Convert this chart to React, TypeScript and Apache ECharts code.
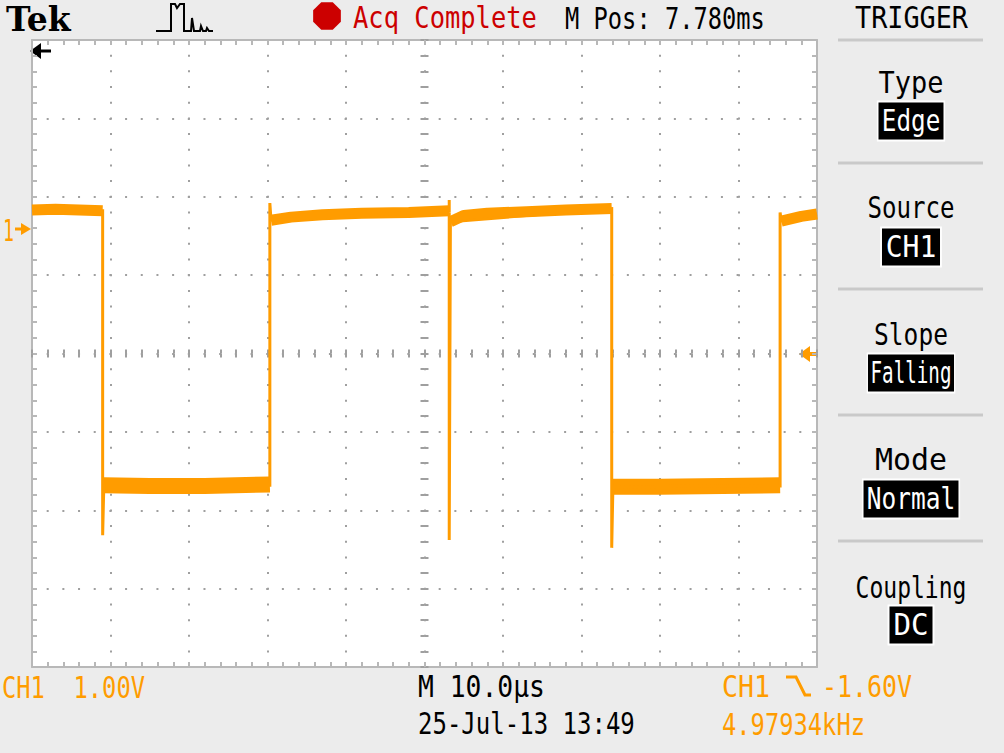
import React, { useEffect, useRef } from 'react';
import * as echarts from 'echarts';

// ---- Scope settings ----
const TIME_MIN_US = 0;
const TIME_MAX_US = 100; // 10 div x 10.0 us
const TIME_PER_DIV_US = 10;
const VOLT_MIN = -5.6; // 8 div x 1.00 V, centre = trigger level -1.60 V
const VOLT_MAX = 2.4;
const VOLT_PER_DIV = 1;

// ---- Thin trace (edges, over/undershoot spikes) ----
const TRACE_T = [0, 9.0, 9.0, 9.15, 30.3, 30.3, 30.45, 53.15, 53.15, 53.15, 53.3, 73.85, 73.85, 74.0, 95.3, 95.3, 95.45, 100];
const TRACE_V = [0.23, 0.22, -3.92, -3.28, -3.28, 0.32, 0.10, 0.22, 0.36, -3.98, 0.08, 0.25, -4.08, -3.30, -3.29, 0.20, 0.09, 0.18];

// ---- Noisy high level segments ----
const HIGH_T = [
  [0, 3, 6, 9.0],
  [30.45, 33, 37, 42, 48, 53.15],
  [53.3, 55, 58, 63, 68, 73.85],
  [95.45, 98, 100],
];
const HIGH_V = [
  [0.23, 0.24, 0.23, 0.22],
  [0.10, 0.14, 0.17, 0.19, 0.20, 0.22],
  [0.08, 0.16, 0.19, 0.21, 0.23, 0.25],
  [0.09, 0.15, 0.18],
];

// ---- Noisy low level segments ----
const LOW_T = [
  [9.15, 15, 22, 30.3],
  [74.0, 80, 88, 95.3],
];
const LOW_V = [
  [-3.28, -3.29, -3.29, -3.27],
  [-3.30, -3.30, -3.29, -3.28],
];

// ---- Readouts ----
const HEADER = { brand: 'Tek', status: 'Acq Complete', mpos: 'M Pos: 7.780ms', menu: 'TRIGGER' };
const MENU_ITEMS = ['Type', 'Source', 'Slope', 'Mode', 'Coupling'];
const MENU_VALUES = ['Edge', 'CH1', 'Falling', 'Normal', 'DC'];
const FOOTER = {
  ch: 'CH1  1.00V',
  time: 'M 10.0µs',
  date: '25-Jul-13 13:49',
  trigCh: 'CH1',
  trigLevel: '-1.60V',
  freq: '4.97934kHz',
};

const ORANGE = '#ff9c00';
const RED = '#cc0000';
const DOT = '#9f9f9f';
const BORDER = '#b8b8b8';
const BG = '#ececec';
const MONO = '"DejaVu Sans Mono", "Liberation Mono", monospace';
const FS = 30;
const CW = 0.602;

const GRID = { left: 32, top: 40, width: 785, height: 627 };

function label(text: string, x: number, y: number, width: number, color: string, align = 'left') {
  const natural = text.length * CW * FS;
  return {
    type: 'text', x, y, scaleX: width / natural, silent: true,
    style: { text, x: 0, y: 0, fill: color, fontFamily: MONO, fontSize: FS, align, verticalAlign: 'middle' },
  };
}

function boxed(text: string, cx: number, cy: number, width: number) {
  const natural = text.length * CW * FS + 8;
  return {
    type: 'text', x: cx, y: cy, scaleX: width / natural, silent: true,
    style: {
      text, x: 0, y: 0, fill: '#fff', fontFamily: MONO, fontSize: FS, align: 'center', verticalAlign: 'middle',
      backgroundColor: '#000', padding: [4, 4, 3, 4], lineHeight: 30, borderColor: '#fff', borderWidth: 2,
    },
  };
}

function buildOption() {
  const pairs = (ts: number[], vs: number[]) => ts.map((t, i) => [t, vs[i]]);

  const levelSeries = (tss: number[][], vss: number[][], width: number, name: string) =>
    tss.map((ts, k) => ({
      type: 'line', name: name + k, xAxisIndex: 0, yAxisIndex: 0, data: pairs(ts, vss[k]),
      symbol: 'none', silent: true, z: 3,
      lineStyle: { color: ORANGE, width, cap: 'butt', join: 'round' },
    }));

  const hiddenAxis = {
    axisLabel: { show: false }, splitLine: { show: false }, name: '',
  };

  const borderAxis = (gridIndex: number, position: string, max: number) => ({
    type: 'value', gridIndex, position, min: 0, max, interval: 1, ...hiddenAxis,
    axisLine: { show: true, onZero: false, lineStyle: { color: BORDER, width: 2 } },
    axisTick: { show: true, inside: true, length: 5, lineStyle: { color: BORDER, width: 2 } },
  });

  const crossAxis = (gridIndex: number, position: string, half: number) => ({
    type: 'value', gridIndex, position, min: -half, max: half, interval: 1, ...hiddenAxis,
    axisLine: { show: false, onZero: true },
    axisTick: { show: true, inside: false, length: 4, lineStyle: { color: DOT, width: 2 } },
  });

  const dotted = { color: DOT, width: 2, type: [2, 13.68], dashOffset: 1 };

  // decorations
  const octagon: number[][] = [];
  for (let i = 0; i < 8; i++) {
    const a = Math.PI / 8 + (i * Math.PI) / 4;
    octagon.push([327 + 15 * Math.cos(a), 16 + 15 * Math.sin(a)]);
  }

  const menuLabelY = [83, 208, 335, 459, 587];
  const menuBoxY = [121, 247, 373, 499, 625];
  const menuLabelW = [65, 87, 74, 72, 111];
  const menuBoxW = [65, 58, 86, 95, 43];
  const sepY = [40, 163, 289, 415, 541];

  const elements: any[] = [
    {
      type: 'text', x: 6, y: 19, silent: true,
      style: { text: HEADER.brand, fill: '#000', fontFamily: '"DejaVu Serif", serif', fontWeight: 'bold', fontSize: 33, align: 'left', verticalAlign: 'middle' },
    },
    {
      type: 'polyline', silent: true,
      shape: { points: [[156, 31], [171, 31], [171, 4], [175, 4], [177, 8], [180, 4], [184, 4], [184, 31], [191, 31], [192, 18], [194, 31], [200, 31], [201, 26], [203, 31], [206, 31], [207, 28], [209, 31], [213, 31]] },
      style: { stroke: '#000', lineWidth: 2, fill: null },
    },
    { type: 'polygon', silent: true, shape: { points: octagon }, style: { fill: RED } },
    label(HEADER.status, 353, 18, 184, RED),
    label(HEADER.mpos, 565, 18, 200, '#000'),
    label(HEADER.menu, 855, 18, 113, '#000'),
    ...sepY.map((y) => ({ type: 'line', silent: true, shape: { x1: 838, y1: y, x2: 983, y2: y }, style: { stroke: '#c9c9c9', lineWidth: 3 } })),
    ...MENU_ITEMS.map((t, i) => label(t, 911, menuLabelY[i], menuLabelW[i], '#000', 'center')),
    ...MENU_VALUES.map((t, i) => boxed(t, 911, menuBoxY[i], menuBoxW[i])),
    label(FOOTER.ch, 2, 687, 143, ORANGE),
    label(FOOTER.time, 418, 687, 127, '#000'),
    label(FOOTER.date, 418, 724, 217, '#000'),
    label(FOOTER.trigCh, 722, 687, 48, ORANGE),
    {
      type: 'polyline', silent: true,
      shape: { points: [[786, 677], [796, 677], [805, 695], [811, 695]] },
      style: { stroke: ORANGE, lineWidth: 3, fill: null },
    },
    label(FOOTER.trigLevel, 822, 687, 90, ORANGE),
    label(FOOTER.freq, 722, 724, 143, ORANGE),
    // ground marker "1 ->"
    label('1', 3, 231, 11, ORANGE),
    { type: 'line', silent: true, shape: { x1: 15, y1: 229, x2: 25, y2: 229 }, style: { stroke: ORANGE, lineWidth: 3 } },
    { type: 'polygon', silent: true, shape: { points: [[21, 223], [31, 229], [21, 235]] }, style: { fill: ORANGE } },
    // trigger level arrow (right)
    { type: 'polygon', silent: true, shape: { points: [[799, 354], [810, 346], [810, 362]] }, style: { fill: ORANGE } },
    { type: 'line', silent: true, shape: { x1: 808, y1: 354, x2: 818, y2: 354 }, style: { stroke: ORANGE, lineWidth: 4 } },
    // trigger position arrow (top-left, black)
    { type: 'polygon', silent: true, shape: { points: [[30, 51], [41, 43], [41, 59]] }, style: { fill: '#000' } },
    { type: 'line', silent: true, shape: { x1: 39, y1: 51, x2: 51, y2: 51 }, style: { stroke: '#000', lineWidth: 3 } },
  ];

  return {
    animation: false,
    backgroundColor: BG,
    grid: [
      { ...GRID, show: true, backgroundColor: '#fff', borderWidth: 0 },
      { ...GRID, show: false },
      { ...GRID, show: false },
      { ...GRID, show: false },
    ],
    xAxis: [
      {
        type: 'value', gridIndex: 0, min: TIME_MIN_US, max: TIME_MAX_US, interval: TIME_PER_DIV_US, ...hiddenAxis,
        axisLine: { show: false }, axisTick: { show: false },
        splitLine: { show: true, lineStyle: dotted },
      },
      borderAxis(1, 'bottom', 50),
      borderAxis(1, 'top', 50),
      crossAxis(2, 'bottom', 25),
      crossAxis(3, 'top', 25),
    ],
    yAxis: [
      {
        type: 'value', gridIndex: 0, min: VOLT_MIN, max: VOLT_MAX, interval: VOLT_PER_DIV, ...hiddenAxis,
        axisLine: { show: false }, axisTick: { show: false },
        splitLine: { show: true, lineStyle: dotted },
      },
      borderAxis(1, 'left', 40),
      borderAxis(1, 'right', 40),
      crossAxis(2, 'left', 20),
      crossAxis(3, 'right', 20),
    ],
    series: [
      ...levelSeries(LOW_T, LOW_V, 16, 'low'),
      ...levelSeries(HIGH_T, HIGH_V, 11, 'high'),
      {
        type: 'line', name: 'trace', xAxisIndex: 0, yAxisIndex: 0, data: pairs(TRACE_T, TRACE_V),
        symbol: 'none', silent: true, z: 4,
        lineStyle: { color: ORANGE, width: 3, join: 'miter' },
      },
    ],
    graphic: { elements },
  };
}

export default function App() {
  const ref = useRef<HTMLDivElement>(null);
  useEffect(() => {
    if (!ref.current) return;
    const chart = echarts.init(ref.current, undefined, { renderer: 'svg' });
    chart.setOption(buildOption() as any);
    return () => chart.dispose();
  }, []);
  return (
    <div
      ref={ref}
      style={{ position: 'absolute', left: 0, top: 0, width: 1004, height: 753 }}
    />
  );
}
